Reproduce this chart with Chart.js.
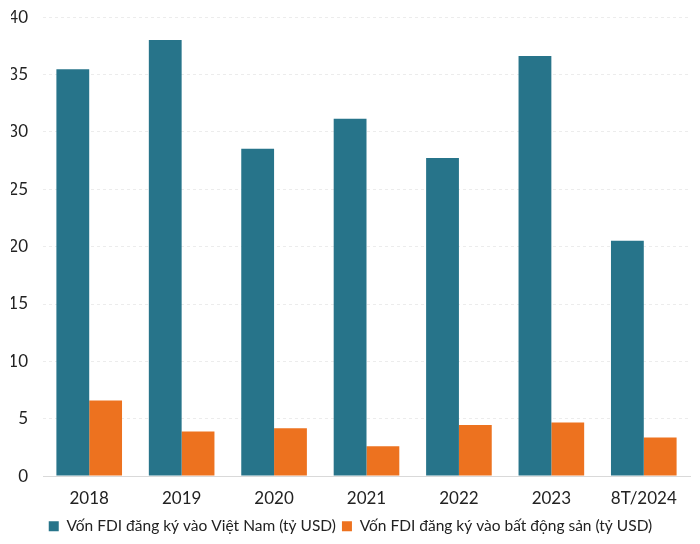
<!DOCTYPE html>
<html>
<head>
<meta charset="utf-8">
<script src="https://cdn.jsdelivr.net/npm/chart.js@4"></script>
<style>
  html, body { margin: 0; padding: 0; background: #fff; overflow: hidden; }
  #wrap { position: relative; top: -8px; width: 700px; height: 552px; }
</style>
</head>
<body>
<div id="wrap"><canvas id="chart"></canvas></div>
<script>
const years = ["2018", "2019", "2020", "2021", "2022", "2023", "8T/2024"];
const fdiVietnam = [35.46, 38.02, 28.53, 31.15, 27.72, 36.61, 20.52];
const fdiRealEstate = [6.6, 3.88, 4.18, 2.6, 4.45, 4.67, 3.37];
const yTicks = [0, 5, 10, 15, 20, 25, 30, 35, 40];

Chart.defaults.font.family = "Lato, 'Noto Sans', sans-serif";
Chart.defaults.color = "#222";

new Chart("chart", {
    type: 'bar',
    data: {
        labels: years,
        datasets: [{
            label: "Vốn FDI đăng ký vào Việt Nam (tỷ USD)",
            backgroundColor: '#27748a',
            data: fdiVietnam
        }, {
            label: "Vốn FDI đăng ký vào bất động sản (tỷ USD)",
            backgroundColor: '#ed721f',
            data: fdiRealEstate
        }]
    },
    options: {
        responsive: true,
        maintainAspectRatio: false,
        animation: false,
        layout: { padding: { left: 11, right: 10, top: 0, bottom: 0 } },
        datasets: {
            bar: { categoryPercentage: 0.71, barPercentage: 1.0 }
        },
        plugins: {
            legend: {
                position: 'bottom',
                labels: {
                    boxWidth: 10,
                    boxHeight: 10,
                    padding: 6,
                    font: { size: 15.5 }
                }
            },
            tooltip: { enabled: false }
        },
        scales: {
            x: {
                grid: { display: false },
                border: { color: '#d9d9d9' },
                ticks: { font: { size: 17 }, padding: 4 }
            },
            y: {
                min: 0,
                max: 40,
                afterBuildTicks: (axis) => { axis.ticks = yTicks.map(v => ({ value: v })); },
                afterFit: (axis) => { axis.width = 32; },
                grid: { color: '#ececec', drawTicks: false },
                border: { display: false, dash: [3, 3] },
                ticks: { font: { size: 17 }, padding: 15 }
            }
        }
    }
});
</script>
</body>
</html>
